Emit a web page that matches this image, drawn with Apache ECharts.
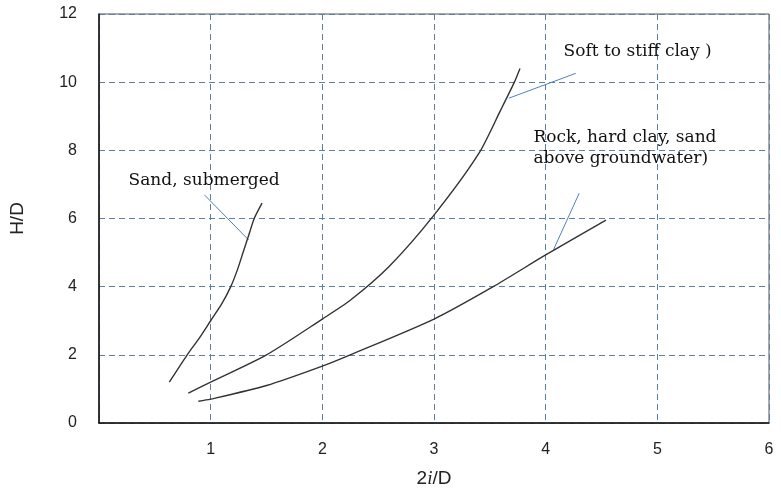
<!DOCTYPE html>
<html><head><meta charset="utf-8">
<script src="https://cdn.jsdelivr.net/npm/echarts@6/dist/echarts.min.js"></script>
<style>html,body{margin:0;padding:0;background:#fff}#c{width:781px;height:493px}</style>
</head><body><div id="c"></div>
<script>
// Curve data: [2i/D, H/D]
const sandSubmerged = [[0.63,1.2],[0.79,2.0],[0.90,2.5],[1.0,3.0],[1.1,3.5],[1.18,4.0],[1.24,4.5],[1.29,5.0],[1.34,5.5],[1.39,6.0],[1.46,6.45]];
const softClay = [[0.80,0.88],[1.0,1.2],[1.5,2.0],[2.0,3.05],[2.25,3.6],[2.6,4.6],[3.0,6.1],[3.4,7.9],[3.6,9.2],[3.72,10.0],[3.77,10.4]];
const rockClaySand = [[0.89,0.64],[1.0,0.70],[1.5,1.1],[2.0,1.67],[2.25,2.0],[3.0,3.05],[3.53,4.0],[4.0,4.93],[4.54,5.95]];
// Leader lines
const leaderSand = [[0.945,6.69],[1.34,5.37]];
const leaderSoft = [[4.27,10.26],[3.67,9.53]];
const leaderRock = [[4.30,6.74],[4.07,5.08]];
// Annotation labels [x, y, text]
const labels = [
  [0.265, 7.12, 'Sand, submerged'],
  [4.16, 10.9, 'Soft to stiff clay )'],
  [3.89, 8.08, 'Rock, hard clay, sand\nabove groundwater)']
];
const xTicks = [0,1,2,3,4,5,6];
const yTicks = [0,2,4,6,8,10,12];

const chart = echarts.init(document.getElementById('c'));
const curve = (d) => ({type:'line', data:d, smooth:0.25, symbol:'none',
  lineStyle:{color:'#333', width:1.4}, z:3});
const leader = (d) => ({type:'line', data:d, symbol:'none',
  lineStyle:{color:'#4f81bd', width:1}, z:2});
chart.setOption({
  animation:false,
  grid:{left:98, right:12, top:14, bottom:70, show:true, borderColor:'#555', borderWidth:1},
  xAxis:{type:'value', min:xTicks[0], max:xTicks[xTicks.length-1], interval:1,
    axisLine:{show:true, onZero:false, lineStyle:{color:'#111', width:1.5}},
    axisTick:{show:false},
    axisLabel:{color:'#222', fontSize:16, fontFamily:'Liberation Sans', margin:19,
      formatter:(v)=> v===0 ? '' : String(v)},
    splitLine:{show:true, lineStyle:{color:'#5b7fa6', type:[6,4], width:1}},
    name:'2{i|i}/D', nameLocation:'middle', nameGap:46,
    nameTextStyle:{color:'#222', fontSize:19, fontFamily:'Liberation Sans',
      rich:{i:{fontStyle:'italic', fontSize:19, fontFamily:'Liberation Serif', color:'#222'}}}
  },
  yAxis:{type:'value', min:yTicks[0], max:yTicks[yTicks.length-1], interval:2,
    axisLine:{show:true, onZero:false, lineStyle:{color:'#111', width:1.5}},
    axisTick:{show:false},
    axisLabel:{color:'#222', fontSize:16, fontFamily:'Liberation Sans', margin:22},
    splitLine:{show:true, lineStyle:{color:'#5b7fa6', type:[6,4], width:1}},
    name:'H/D', nameLocation:'middle', nameGap:72, nameRotate:90,
    nameTextStyle:{color:'#222', fontSize:19, fontFamily:'Liberation Sans'}
  },
  series:[
    curve(sandSubmerged), curve(softClay), curve(rockClaySand),
    leader(leaderSand), leader(leaderSoft), leader(leaderRock),
    {type:'scatter', symbolSize:0, z:4, itemStyle:{opacity:1},
     data: labels.map(l=>({value:[l[0],l[1]], label:{formatter:l[2]}})),
     label:{show:true, position:'right', distance:0, align:'left',
       color:'#111', fontSize:17, fontFamily:'DejaVu Serif', lineHeight:21}
    }
  ]
});
</script></body></html>
